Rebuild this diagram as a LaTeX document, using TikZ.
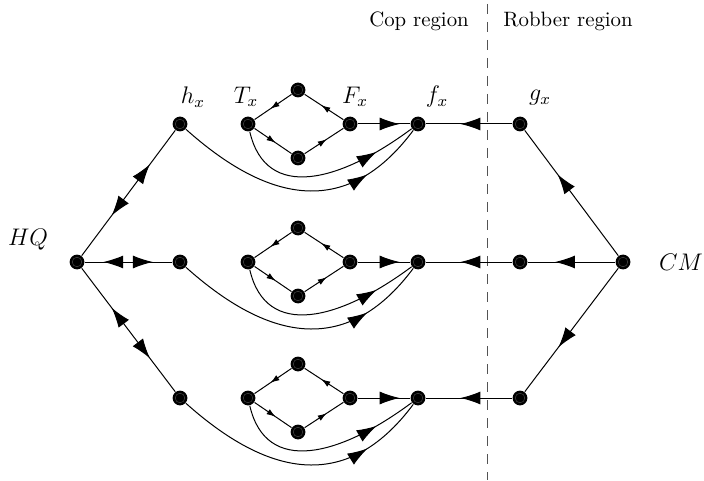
\documentclass[tikz,border=0pt]{standalone}
\usetikzlibrary{arrows.meta,decorations.markings}

\begin{document}
\begin{tikzpicture}[x=0.5pt,y=-0.5pt,line width=0.5pt,
  vert/.style={circle,fill=black,inner sep=0pt,minimum size=7.4pt,
    path picture={\draw[gray!55!black,line width=0.25pt] (path picture bounding box.center) circle (2.4pt);}},
  bigarr/.style={postaction={decorate},decoration={markings,
    mark=at position #1 with {\arrow{Latex[length=10pt,width=6.5pt]}}}},
  dblarr/.style 2 args={postaction={decorate},decoration={markings,
    mark=at position #1 with {\arrowreversed{Latex[length=10pt,width=6.5pt]}},
    mark=at position #2 with {\arrow{Latex[length=10pt,width=6.5pt]}}}},
  smallarr/.style={postaction={decorate},decoration={markings,
    mark=at position #1 with {\arrow{Latex[length=4.5pt,width=3pt]}}}},
  lbl/.style={font=\large},
  divider/.style={gray!65!black,dash pattern=on 5pt off 4pt}]
  \useasboundingbox (0,0) rectangle (704,480);

  \coordinate (divtop) at (487,4);
  \coordinate (divbot) at (487,480);
  \draw[divider] (divtop) -- (divbot);
  \node[font=\fontsize{10.4}{12}\selectfont] (cop) at (419,21) {Cop region};
  \node[font=\fontsize{10.4}{12}\selectfont] (rob) at (568,21) {Robber region};

  \node[vert] (hq) at (77,262) {};
  \node[vert] (cm) at (623,262) {};
  \node[lbl] (lhq) at (28,240) {$HQ$};
  \node[lbl] (lcm) at (681,262) {$CM$};

  \foreach \r/\y in {1/124,2/262,3/398} {
    \node[vert] (hv\r) at (180,\y) {};
    \node[vert] (tv\r) at (248,\y) {};
    \node[vert] (up\r) at (298,{\y-34}) {};
    \node[vert] (dn\r) at (298,{\y+34}) {};
    \node[vert] (Fv\r) at (350,\y) {};
    \node[vert] (fv\r) at (418,\y) {};
    \node[vert] (gv\r) at (520,\y) {};

    \draw[smallarr=0.57] (tv\r) -- (dn\r);
    \draw[smallarr=0.57] (dn\r) -- (Fv\r);
    \draw[smallarr=0.57] (Fv\r) -- (up\r);
    \draw[smallarr=0.57] (up\r) -- (tv\r);
    \draw[bigarr=0.8] (Fv\r) -- (fv\r);
    \draw[bigarr=0.6] (gv\r) -- (fv\r);
    \draw[bigarr=-32pt] (hv\r) .. controls (265,{\y+76}) and (345,{\y+98}) .. (fv\r);
    \draw[bigarr=-21pt] (tv\r) .. controls (266,{\y+78}) and (340,{\y+58}) .. (fv\r);
  }

  \draw[dblarr={0.32}{0.73}] (hq) -- (hv1);
  \draw[dblarr={0.21}{0.78}] (hq) -- (hv2);
  \draw[dblarr={0.32}{0.73}] (hq) -- (hv3);
  \draw[bigarr=0.65] (cm) -- (gv1);
  \draw[bigarr=0.69] (cm) -- (gv2);
  \draw[bigarr=0.64] (cm) -- (gv3);

  \node[lbl] (lh) at (193,97) {$h_x$};
  \node[lbl] (lt) at (246,97) {$T_x$};
  \node[lbl] (lF) at (355,97) {$F_x$};
  \node[lbl] (lf) at (437,97) {$f_x$};
  \node[lbl] (lg) at (540,98) {$g_x$};
\end{tikzpicture}
\end{document}
